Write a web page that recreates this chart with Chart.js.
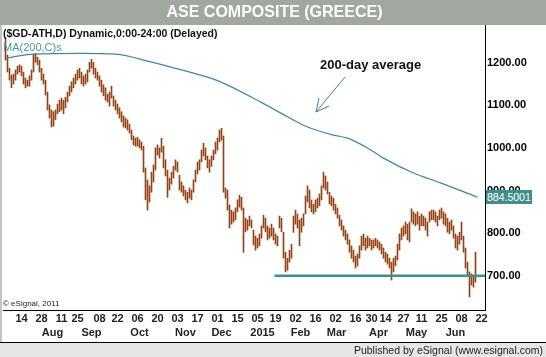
<!DOCTYPE html>
<html><head><meta charset="utf-8">
<script src="https://cdn.jsdelivr.net/npm/chart.js@4/dist/chart.umd.min.js"></script>
<style>
html,body{margin:0;padding:0;background:#fff;}
#wrap{position:relative;width:546px;height:357px;overflow:hidden;font-family:"Liberation Sans",Arial,sans-serif;}
#c{position:absolute;left:0;top:0;}
.t{position:absolute;white-space:nowrap;line-height:1;}
#foot{position:absolute;left:0;top:342px;width:546px;height:15px;background:#e6e6e6;border-top:1px solid #000;box-sizing:border-box;}
#lastv{position:absolute;left:486px;top:190px;width:46px;height:14px;background:#3f8e8c;color:#fff;font-size:10.5px;line-height:14px;text-align:left;padding-left:1px;box-sizing:border-box;}
</style></head><body>
<div id="wrap">
<canvas id="c" width="546" height="357"></canvas>
<div class="t" style="left:3px;top:28px;font-size:10.5px;font-weight:bold;color:#111;">($GD-ATH,D) Dynamic,0:00-24:00 (Delayed)</div>
<div class="t" style="left:3px;top:42px;font-size:11px;color:#4a9a9a;">MA(200,C)s</div>
<div class="t" style="left:320px;top:58px;font-size:13px;font-weight:bold;color:#111;">200-day average</div>
<svg style="position:absolute;left:0;top:0;" width="546" height="357">
  <g stroke="#4a7f9c" stroke-width="1" fill="none">
    <line x1="345" y1="77" x2="316" y2="112"/>
    <line x1="316" y1="112" x2="319" y2="98"/>
    <line x1="316" y1="112" x2="329" y2="106"/>
  </g>
</svg>
<div class="t" style="left:3px;top:300px;font-size:8px;color:#222;">© eSignal, 2011</div>
<div id="lastv">884.5001</div>
<div id="foot"><span class="t" style="right:3px;top:2px;font-size:10.5px;color:#222;">Published by eSignal (www.esignal.com)</span></div>
</div>
<script>
// ---- data ----
const dayIdx    = [0,10,20,28,39,48,58,68,78,88,98,108,118,127,137,147,157,167,175,182,191,200,210,220,230];
const dayLabels = ["14","28","11","25","08","22","06","20","03","17","01","15","05","19","02","16","02","16","30","14","27","11","25","08","22"];
const monthIdx    = [15.5,35,59,82,100,120.5,139.5,157.5,178.5,197.5,217];
const monthLabels = ["Aug","Sep","Oct","Nov","Dec","2015","Feb","Mar","Apr","May","Jun"];
const yTicks = [700,800,900,1000,1100,1200];
const barStart = -8;
const highs = [
1258,1218,1187,1171,1173,1183,1192,1195,
1192,1178,1164,1159,1169,1183,1220,1222,1213,1206,
1187,1173,1159,1131,1101,1089,1085,1089,1103,1112,
1117,1112,1119,1131,1145,1155,1164,1173,1183,1187,
1178,1169,1173,1183,1201,1208,1201,1187,1178,1169,
1159,1148,1141,1126,1131,1145,1122,1112,1103,1094,
1085,1075,1070,1066,1056,1042,1028,1023,1025,1019,
1014,1004,953,925,911,943,960,1000,1007,1000,
1023,1004,972,948,929,943,957,972,967,936,
920,911,901,896,906,901,925,948,967,972,
995,1011,1000,981,972,981,995,1014,1023,1042,
1046,1028,906,901,866,854,850,859,878,889,
884,859,835,831,840,831,807,793,788,798,
817,842,835,817,812,821,812,798,793,840,
835,802,755,741,760,774,840,854,845,831,
835,845,887,911,901,878,868,878,882,892,
911,943,934,920,896,887,882,868,859,842,
831,817,807,798,784,770,760,746,751,770,
793,798,788,793,788,784,784,788,784,779,
774,765,755,751,741,732,741,746,774,798,
812,817,826,821,826,857,850,845,850,840,
845,840,835,826,850,854,854,850,840,854,
859,850,845,835,826,831,817,798,793,802,
826,793,765,732,709,704,699,755];
const lows = [
1206,1178,1159,1141,1150,1159,1173,1178,
1169,1150,1141,1145,1145,1159,1178,1201,1195,1178,
1159,1150,1124,1089,1070,1049,1051,1066,1080,1085,
1089,1080,1094,1108,1122,1131,1141,1150,1159,1164,
1150,1145,1150,1155,1178,1187,1173,1164,1159,1145,
1131,1122,1112,1108,1098,1117,1098,1089,1080,1070,
1061,1049,1047,1042,1035,1019,1007,1004,1004,1000,
995,943,878,854,873,896,920,948,983,976,
990,953,934,884,901,915,929,948,943,901,
896,887,878,871,882,878,896,920,939,948,
967,981,972,953,943,957,972,986,995,1014,
1018,896,882,854,812,821,826,831,850,861,
854,755,803,807,817,812,772,760,765,770,
788,812,803,784,788,793,784,774,770,812,
803,741,709,713,732,741,802,821,812,770,
802,817,845,873,859,850,845,850,859,864,
878,906,901,892,868,864,854,845,835,817,
807,793,784,774,755,741,732,718,723,741,
760,770,760,765,770,760,765,770,765,760,
751,741,732,727,718,690,709,723,737,760,
784,793,798,784,779,826,821,817,821,807,
817,817,807,793,826,831,831,826,817,831,
835,821,817,802,798,807,788,765,760,774,
784,755,718,701,650,678,673,685];
const maIdx = [-8,6,30,47,64.5,76,89.5,99.5,119.5,133,143,156,163,173,181,196,209.5,228];
const maVal = [1211,1220,1222,1220,1202,1188,1171,1155,1108,1073,1049,1030,1023,1000,976,941,918,884.5];
const supportLevel = 700;
const supportFrom = 126.5;

// ---- chart ----
const FONT = '"Liberation Sans", Arial, sans-serif';
const xMin = -9.25, xMax = 231.75;
const priceData = highs.map((h,k)=>({x: barStart+k, y:[lows[k], h]}));
const maData = maIdx.map((x,k)=>({x, y: maVal[k]}));
const supData = [{x: supportFrom, y: supportLevel},{x: xMax, y: supportLevel}];

const frame = {
  id:'frame',
  beforeDraw(chart){
    const c = chart.ctx;
    c.save();
    c.fillStyle = '#a0a89f';
    c.fillRect(0,0,546,25);
    c.fillStyle = '#c4c4c4';
    c.fillRect(0,25,2,317);
    c.restore();
  }
};

new Chart(document.getElementById('c'), {
  type:'bar',
  data:{ datasets:[
    {type:'line', data: supData, borderColor:'#3b8f8f', borderWidth:2.5, pointRadius:0, xAxisID:'x', yAxisID:'y', order:0},
    {type:'line', data: maData, borderColor:'#3f89a0', borderWidth:1.2, pointRadius:0, tension:0.4, cubicInterpolationMode:'monotone', xAxisID:'x', yAxisID:'y', order:1},
    {type:'bar', data: priceData, backgroundColor:'#964317', borderWidth:0, barThickness:1, grouped:false, xAxisID:'x', yAxisID:'y', order:2}
  ]},
  options:{
    responsive:false, animation:false, events:[],
    layout:{padding:{left:3, right:0, top:0, bottom:15}},
    plugins:{
      legend:{display:false}, tooltip:{enabled:false},
      title:{display:true, text:'ASE COMPOSITE (GREECE)', color:'#ffffff', font:{family:FONT, size:16, weight:'bold', lineHeight:1}, padding:{top:4.5, bottom:4.5}}
    },
    scales:{
      x:{type:'linear', position:'bottom', min:xMin, max:xMax, offset:false,
        afterBuildTicks:s=>{ s.ticks = dayIdx.map(v=>({value:v})); },
        ticks:{autoSkip:false, maxRotation:0, minRotation:0, padding:2, color:'#222', font:{family:FONT, size:11, weight:'bold'}, callback:(v,i)=>dayLabels[i]},
        grid:{display:false, drawTicks:false}, border:{display:true, color:'#000', width:1},
        afterFit:s=>{ s.height = 16; }
      },
      x2:{type:'linear', position:'bottom', min:xMin, max:xMax, offset:false,
        afterBuildTicks:s=>{ s.ticks = monthIdx.map(v=>({value:v})); },
        ticks:{autoSkip:false, maxRotation:0, minRotation:0, padding:0, color:'#222', font:{family:FONT, size:11, weight:'bold'}, callback:(v,i)=>monthLabels[i]},
        grid:{display:false, drawTicks:false}, border:{display:false},
        afterFit:s=>{ s.height = 16; }
      },
      y:{type:'linear', position:'right', min:619.5, max:1288.5,
        afterBuildTicks:s=>{ s.ticks = yTicks.map(v=>({value:v})); },
        ticks:{padding:2, color:'#000', font:{family:FONT, size:11, weight:'bold'}, callback:v=>Number(v).toFixed(2)},
        grid:{display:false, drawTicks:false}, border:{display:true, color:'#000', width:1},
        afterFit:s=>{ s.width = 61; }
      }
    }
  },
  plugins:[frame]
});
</script>
</body></html>
